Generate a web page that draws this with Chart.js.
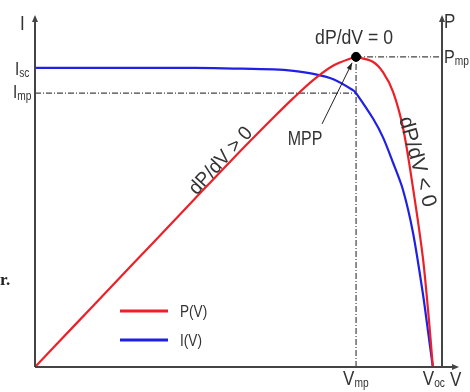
<!DOCTYPE html>
<html lang="en">
<head>
<meta charset="UTF-8">
<title>P-V and I-V curve</title>
<script src="https://cdn.jsdelivr.net/npm/chart.js"></script>
<style>
  html, body { margin: 0; padding: 0; background: #fff; }
</style>
</head>
<body>
<canvas id="pvChart" width="470" height="392"></canvas>
<script>
// normalised voltage (Voc = 1), current (Isc = 1), power scaled to the same height
const voltage = [0, 0.1, 0.2, 0.3, 0.4, 0.5, 0.6, 0.65, 0.7, 0.75, 0.8, 0.807, 0.85, 0.875, 0.9, 0.925, 0.95, 0.975, 0.99, 1.0];
const current = [1, 1, 1, 1, 1, 0.998, 0.995, 0.99, 0.98, 0.962, 0.925, 0.916, 0.83, 0.767, 0.683, 0.592, 0.45, 0.245, 0.098, 0];
const power = [0, 0.14, 0.28, 0.42, 0.56, 0.70, 0.835, 0.90, 0.96, 1.008, 1.035, 1.037, 1.02, 0.985, 0.92, 0.8, 0.6, 0.365, 0.16, 0];
const vmp = 0.807;
const imp = 0.916;
const pmp = 1.037;
const xMax = 1.023;
const yMax = 1.177;
const legendLabels = ['P(V)', 'I(V)'];

const RED = 'rgb(236, 32, 40)';
const BLUE = 'rgb(32, 32, 228)';
const AXIS = '#444';
const TEXT = '#333';
const FONT = '"Liberation Sans", Arial, sans-serif';

function toPoints(xs, ys) {
    return xs.map((x, i) => ({ x: x, y: ys[i] }));
}

function txt(ctx, s, x, y, size, sx, align) {
    ctx.save();
    ctx.font = size + 'px ' + FONT;
    ctx.textAlign = align || 'left';
    ctx.translate(x, y);
    ctx.scale(sx, 1);
    ctx.fillText(s, 0, 0);
    const w = ctx.measureText(s).width * sx;
    ctx.restore();
    return w;
}

function sub(ctx, main, small, x, y, size, subSize) {
    const w = txt(ctx, main, x, y, size, 0.85);
    txt(ctx, small, x + w, y + 2, subSize, 0.85);
}

function rotated(ctx, s, cx, cy, angle, size, sx) {
    ctx.save();
    ctx.translate(cx, cy);
    ctx.rotate(angle);
    ctx.font = size + 'px ' + FONT;
    ctx.textAlign = 'center';
    ctx.textBaseline = 'middle';
    ctx.scale(sx, 1);
    ctx.fillText(s, 0, 0);
    ctx.restore();
}

function arrowHead(ctx, x, y, angle, len, wid) {
    ctx.save();
    ctx.translate(x, y);
    ctx.rotate(angle);
    ctx.beginPath();
    ctx.moveTo(0, 0);
    ctx.lineTo(-len, -wid);
    ctx.lineTo(-len, wid);
    ctx.closePath();
    ctx.fill();
    ctx.restore();
}

const decorations = {
    id: 'decorations',
    afterDatasetsDraw(chart) {
        const ctx = chart.ctx;
        const xs = chart.scales.x, ys = chart.scales.y;
        const x0 = xs.getPixelForValue(0);
        const xR = xs.getPixelForValue(xMax);
        const y0 = ys.getPixelForValue(0);
        const yT = ys.getPixelForValue(yMax);

        // axes
        ctx.save();
        ctx.strokeStyle = AXIS;
        ctx.fillStyle = AXIS;
        ctx.lineWidth = 2;
        ctx.beginPath();
        ctx.moveTo(x0, y0); ctx.lineTo(x0, yT + 4);
        ctx.moveTo(xR, y0); ctx.lineTo(xR, yT + 4);
        ctx.moveTo(x0, y0); ctx.lineTo(xR + 12, y0);
        ctx.stroke();
        arrowHead(ctx, x0, yT, -Math.PI / 2, 7, 3);
        arrowHead(ctx, xR, yT, -Math.PI / 2, 7, 3);
        arrowHead(ctx, xR + 17, y0, 0, 7, 3);
        ctx.restore();

        // axis labels
        ctx.save();
        ctx.fillStyle = TEXT;
        txt(ctx, 'I', x0 - 15, yT + 15, 20, 0.85);
        sub(ctx, 'I', 'sc', x0 - 20, ys.getPixelForValue(1) + 7, 18, 12);
        sub(ctx, 'I', 'mp', x0 - 22, ys.getPixelForValue(imp) + 5, 18, 12);
        txt(ctx, 'P', xR + 2, yT + 13, 20, 0.85);
        sub(ctx, 'P', 'mp', xR + 2, ys.getPixelForValue(pmp) + 6, 19, 12);
        sub(ctx, 'V', 'mp', xs.getPixelForValue(vmp) - 13, y0 + 18, 20, 12);
        sub(ctx, 'V', 'oc', xs.getPixelForValue(1) - 10, y0 + 18, 20, 12);
        txt(ctx, 'V', xR + 8, y0 + 19, 20, 0.85);

        // annotations
        const mx = xs.getPixelForValue(vmp), my = ys.getPixelForValue(pmp);
        txt(ctx, 'dP/dV = 0', mx - 2, my - 13, 21, 0.84, 'center');
        txt(ctx, 'MPP', mx - 51, my + 88, 20, 0.8, 'center');
        rotated(ctx, 'dP/dV > 0', 221, 161, -0.83, 20, 0.95);
        rotated(ctx, 'dP/dV < 0', 417, 162, 1.30, 21, 1.0);

        // MPP arrow
        ctx.strokeStyle = '#222';
        ctx.fillStyle = '#222';
        ctx.lineWidth = 1;
        const tx = mx - 4, ty = my + 6;
        const sx0 = mx - 34, sy0 = my + 67;
        ctx.beginPath();
        ctx.moveTo(sx0, sy0);
        ctx.lineTo(tx, ty);
        ctx.stroke();
        arrowHead(ctx, tx, ty, Math.atan2(ty - sy0, tx - sx0), 7, 2.5);

        // legend
        const colours = [RED, BLUE];
        legendLabels.forEach((lab, i) => {
            const ly = 311 + i * 29;
            ctx.strokeStyle = colours[i];
            ctx.lineWidth = 3;
            ctx.beginPath();
            ctx.moveTo(120, ly);
            ctx.lineTo(168, ly);
            ctx.stroke();
            ctx.fillStyle = TEXT;
            txt(ctx, lab, 180, ly + 6, 16, 0.85);
        });

        // stray fragment on the left edge
        ctx.fillStyle = '#222';
        ctx.font = 'bold 17px "Liberation Serif", serif';
        ctx.fillText('r.', 0, 285);
        ctx.restore();
    }
};

const dashStyle = {
    borderColor: '#444',
    borderWidth: 1.2,
    borderDash: [6, 2, 1, 2],
    pointRadius: 0,
    fill: false
};

new Chart(document.getElementById('pvChart'), {
    type: 'line',
    data: {
        datasets: [
            {
                label: 'MPP',
                data: [{ x: vmp, y: pmp }],
                showLine: false,
                pointRadius: 4.5,
                pointBackgroundColor: '#000',
                pointBorderColor: '#000'
            },
            {
                label: 'P(V)',
                data: toPoints(voltage, power),
                borderColor: RED,
                borderWidth: 2.2,
                pointRadius: 0,
                tension: 0.3
            },
            {
                label: 'I(V)',
                data: toPoints(voltage, current),
                borderColor: BLUE,
                borderWidth: 2.2,
                pointRadius: 0,
                tension: 0.3
            },
            Object.assign({ label: 'Imp', data: [{ x: 0, y: imp }, { x: vmp, y: imp }] }, dashStyle),
            Object.assign({ label: 'Pmp', data: [{ x: vmp, y: pmp }, { x: xMax, y: pmp }] }, dashStyle),
            Object.assign({ label: 'Vmp', data: [{ x: vmp, y: 0 }, { x: vmp, y: pmp }] }, dashStyle)
        ]
    },
    options: {
        responsive: false,
        animation: false,
        layout: { padding: { left: 35, right: 28, top: 15, bottom: 25 } },
        plugins: {
            legend: { display: false },
            tooltip: { enabled: false }
        },
        scales: {
            x: { type: 'linear', min: 0, max: xMax, display: false },
            y: { type: 'linear', min: 0, max: yMax, display: false }
        }
    },
    plugins: [decorations]
});
</script>
</body>
</html>
